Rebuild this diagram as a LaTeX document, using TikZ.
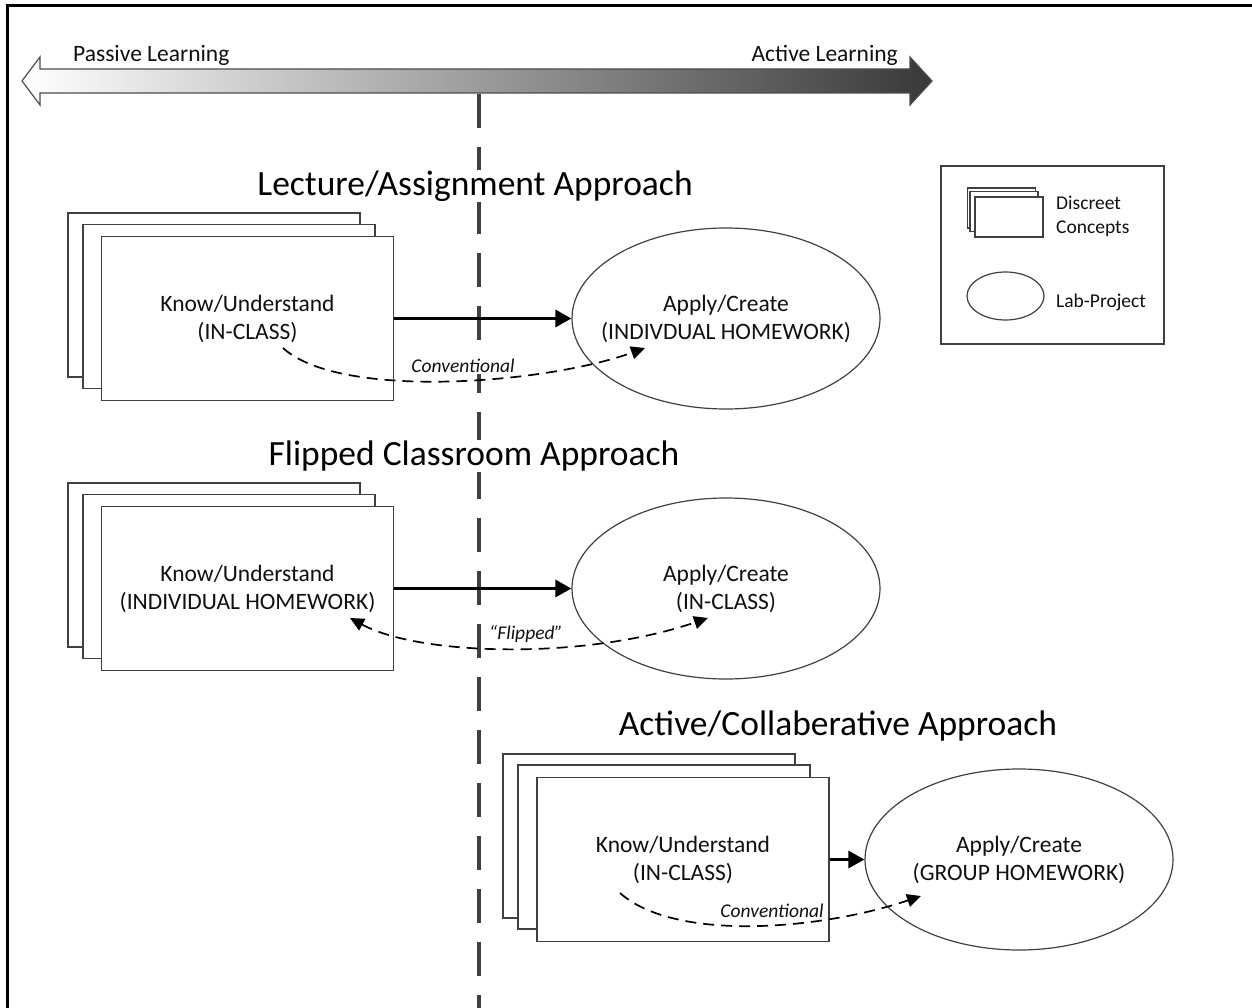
\documentclass[tikz,border=0pt]{standalone}
\usepackage{fontspec}
\setmainfont{Carlito}
\usetikzlibrary{arrows.meta,shapes.geometric}
\definecolor{edge}{HTML}{404040}
\definecolor{txt}{HTML}{101010}
\newcommand\myfs[2]{\fontsize{#1pt}{#2pt}\selectfont}
\begin{document}
\begin{tikzpicture}[x=1pt,y=-1pt,
  card/.style={draw=edge, fill=white, line width=1.4pt, minimum width=292pt, minimum height=164pt, inner sep=0pt, text=txt, font=\myfs{23.5}{28}, align=center},
  minicard/.style={draw=edge, fill=white, line width=1.3pt, minimum width=68pt, minimum height=40pt, inner sep=0pt},
  oval/.style={ellipse, draw=edge, line width=1.2pt, fill=white, minimum width=308pt, minimum height=181pt, inner sep=0pt},
  ovaltext/.style={align=center, text=txt, font=\myfs{23.5}{28}, inner sep=0pt},
  title/.style={font=\myfs{35.5}{40}, text=black, fill=white, inner sep=1pt},
  flow/.style={line width=3.2pt, -{Triangle[length=16pt,width=17pt]}},
  loop/.style={line width=1.7pt, dash pattern=on 11pt off 7pt, -{Triangle[length=14pt,width=13pt]}},
  loopboth/.style={line width=1.7pt, dash pattern=on 11pt off 7pt, {Triangle[length=14pt,width=13pt]}-{Triangle[length=14pt,width=13pt]}},
  note/.style={font=\myfs{19.5}{24}\itshape, text=txt, inner sep=1pt},
  legtext/.style={font=\myfs{19.5}{24}, text=txt, align=left, anchor=west, inner sep=0pt},
  scaletext/.style={font=\myfs{23.5}{28}, text=txt, inner sep=0pt}
]
\useasboundingbox (0,0) rectangle (1252,1008);

% frame
\draw[line width=3pt] (7.5,1008) -- (7.5,6) -- (1252,6);

% gradient double arrow
\path[draw=black!70, line width=1.2pt, left color=white, right color=black!78]
  (22,81) -- (40,57) -- (40,69) -- (910,69) -- (910,57) -- (932,81)
  -- (910,105) -- (910,93) -- (40,93) -- (40,105) -- cycle;
\node[scaletext, anchor=south west] (passive) at (73,66) {Passive Learning};
\node[scaletext, anchor=south east] (active) at (898,66) {Active Learning};

% vertical dashed divider
\coordinate (vtop) at (479,94);
\coordinate (vbot) at (479,1008);
\draw[edge, line width=4pt, dash pattern=on 34pt off 19pt] (vtop) -- (vbot);

% titles
\node[title] (t1) at (475,186) {Lecture/Assignment Approach};
\node[title] (t2) at (474,456) {Flipped Classroom Approach};
\node[title] (t3) at (838,726) {Active/Collaberative Approach};

% stack 1
\node[card] (b1) at (214,295) {};
\node[card] (m1) at (229,306.5) {};
\node[card] (f1) at (247.5,318.5) {Know/Understand\\(IN-CLASS)};
\node[oval] (o1) at (726,318.5) {};
\node[ovaltext] (o1t) at (o1.center) {Apply/Create\\(INDIVDUAL HOMEWORK)};
\draw[flow] (f1.east) -- (o1.west);
\coordinate (s1) at (283,348);
\coordinate (e1) at (645,348);
\draw[loop] (s1) .. controls (340,400) and (545,384) .. (e1);
\node[note, fill=white] (n1) at (463,366) {Conventional};

% stack 2
\node[card] (b2) at (214,565) {};
\node[card] (m2) at (229,576.5) {};
\node[card] (f2) at (247.5,588.5) {Know/Understand\\(INDIVIDUAL HOMEWORK)};
\node[oval] (o2) at (726,588.5) {};
\node[ovaltext] (o2t) at (o2.center) {Apply/Create\\(IN-CLASS)};
\draw[flow] (f2.east) -- (o2.west);
\coordinate (s2) at (350,618);
\coordinate (e2) at (708,618);
\draw[loopboth] (s2) .. controls (420,656) and (585,660) .. (e2);
\node[note] (n2) at (526,634) {``Flipped''};

% stack 3
\node[card] (b3) at (649,836) {};
\node[card] (m3) at (664,847) {};
\node[card] (f3) at (683,859.5) {Know/Understand\\(IN-CLASS)};
\node[oval] (o3) at (1019,859.5) {};
\node[ovaltext] (o3t) at (o3.center) {Apply/Create\\(GROUP HOMEWORK)};
\draw[flow] (f3.east) -- (o3.west);
\coordinate (s3) at (620,893);
\coordinate (e3) at (921,896);
\draw[loop] (s3) .. controls (675,942) and (820,930) .. (e3);
\node[note] (n3) at (772,911) {Conventional};

% legend
\node[draw=edge, line width=1.8pt, minimum width=223pt, minimum height=178pt, inner sep=0pt] (leg) at (1052.5,255) {};
\node[minicard] (lb) at (1001.5,208) {};
\node[minicard] (lm) at (1004,211.5) {};
\node[minicard] (lf) at (1009,217) {};
\node[legtext] (ltx1) at (1056,216) {Discreet\\Concepts};
\node[ellipse, draw=edge, line width=1.2pt, minimum width=77pt, minimum height=48pt, inner sep=0pt] (lo) at (1005.5,296) {};
\node[legtext] (ltx2) at (1056,302) {Lab-Project};
\end{tikzpicture}
\end{document}
